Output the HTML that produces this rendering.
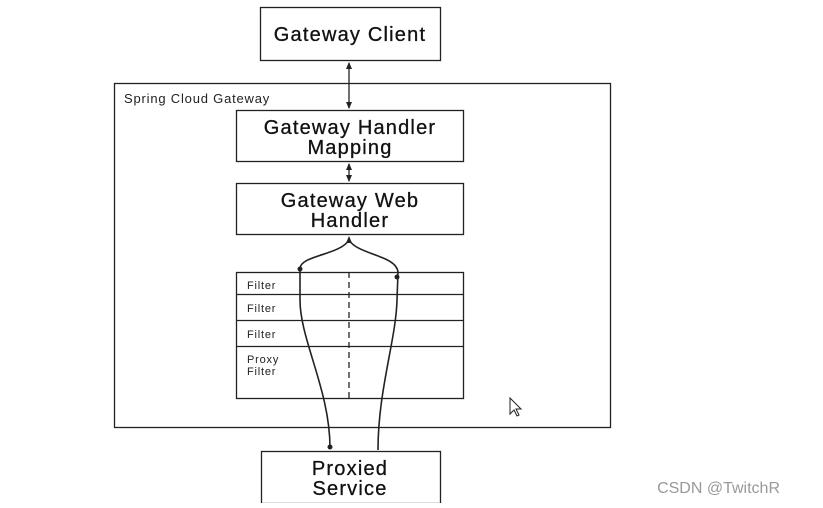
<!DOCTYPE html>
<html><head><style>
body{margin:0;background:#fff;width:823px;height:503px;overflow:hidden;font-family:"Liberation Sans",sans-serif}
</style></head><body>
<svg width="823" height="503" xmlns="http://www.w3.org/2000/svg" font-family="Liberation Sans, sans-serif">
<g fill="none" stroke="#222" stroke-width="1.3">
<rect x="260.5" y="7.5" width="180" height="53"/>
<rect x="114.5" y="83.5" width="496" height="344"/>
<rect x="236.5" y="110.5" width="227" height="51"/>
<rect x="236.5" y="183.5" width="227" height="51"/>
<rect x="236.5" y="272.5" width="227" height="126"/>
<line x1="236" y1="294.5" x2="463" y2="294.5"/>
<line x1="236" y1="320.5" x2="463" y2="320.5"/>
<line x1="236" y1="346.5" x2="463" y2="346.5"/>
<rect x="261.5" y="451.5" width="179" height="52"/>
<line x1="349" y1="63" x2="349" y2="108"/>
<line x1="349" y1="164" x2="349" y2="181"/>
<line x1="349" y1="272" x2="349" y2="398" stroke-dasharray="6,4"/>
<path d="M349 240 C340 255 302 255 300 268 L300 300 C300 340 330 390 330 448" stroke-width="1.6"/>
<path d="M349 240 C358 255 396 255 398 272 L397 300 C396 340 378 390 378 450" stroke-width="1.6"/>
<path d="M510 398 l0 16 l4 -4 l3 6 l2 -1 l-3 -6 l5 0 z" stroke-width="1"/>
</g>
<g fill="#222">
<path d="M349 62 l-3 7 l6 0 z"/><path d="M349 109 l-3 -7 l6 0 z"/>
<path d="M349 163 l-3 7 l6 0 z"/><path d="M349 182 l-3 -7 l6 0 z"/>
<path d="M349 236 l-3 7 l6 0 z"/>
<circle cx="300" cy="269" r="2.5"/><circle cx="397" cy="277" r="2.5"/>
<circle cx="330" cy="447" r="2.5"/>
</g>
<g fill="#111" text-anchor="middle" font-size="20" letter-spacing="1.2" stroke="#111" stroke-width="0.3">
<text x="350" y="41">Gateway Client</text>
<text x="350" y="134">Gateway Handler</text>
<text x="350" y="154">Mapping</text>
<text x="350" y="207">Gateway Web</text>
<text x="350" y="227">Handler</text>
<text x="350" y="475">Proxied</text>
<text x="350" y="495">Service</text>
</g>
<g fill="#222" font-size="11" letter-spacing="0.8">
<text x="124" y="103" font-size="13">Spring Cloud Gateway</text>
<text x="247" y="289">Filter</text>
<text x="247" y="312">Filter</text>
<text x="247" y="338">Filter</text>
<text x="247" y="363">Proxy</text>
<text x="247" y="375">Filter</text>
</g>
<text x="780" y="493" fill="#999" font-size="16" text-anchor="end">CSDN @TwitchR</text>
</svg>
</body></html>
